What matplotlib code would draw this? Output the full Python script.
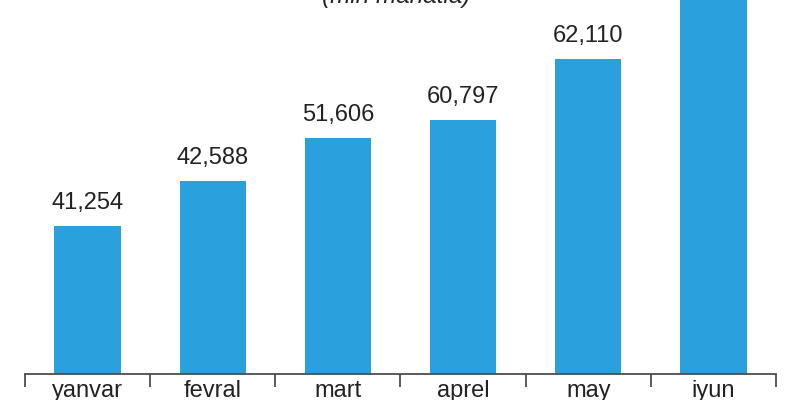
import matplotlib.pyplot as plt
import numpy as np

months = ['yanvar', 'fevral', 'mart', 'aprel', 'may', 'iyun']
values = ['41,254', '42,588', '51,606', '60,797', '62,110', '']
# bar heights as drawn in the original (not proportional to the values)
heights = [148, 193, 236, 254, 315, 420]

BAR = '#2aa1dc'
AXIS = '#4d4d4d'

plt.rcParams['font.family'] = ['Liberation Sans', 'DejaVu Sans']

fig = plt.figure(figsize=(7.92, 4.00), dpi=100)
ax = fig.add_axes([25 / 792, 26 / 400, 751 / 792, 374 / 400])

x = np.arange(len(months))
ax.bar(x, heights, width=0.53, color=BAR, clip_on=True)
for xi, h, v in zip(x, heights, values):
    if v:
        ax.annotate(v, (xi, h), xytext=(0, 9), textcoords='offset points',
                    ha='center', va='bottom', fontsize=17, color='#222222')

ax.set_xlim(-0.5, len(months) - 0.5)
ax.set_ylim(0, 374)
for side in ['top', 'right', 'left']:
    ax.spines[side].set_visible(False)
ax.spines['bottom'].set_color(AXIS)
ax.spines['bottom'].set_linewidth(1.3)
ax.set_yticks([])
ax.set_xticks(x)
ax.set_xticklabels(months, fontsize=17, color='#222222')
ax.tick_params(axis='x', which='major', length=0, pad=4)
ax.set_xticks(np.arange(len(months) + 1) - 0.5, minor=True)
ax.tick_params(axis='x', which='minor', length=9, width=1.3, color=AXIS,
               direction='out')

fig.text(0.5, 1 - 3 / 400, '(mln manatla)', ha='center', va='baseline',
         fontsize=17.5, style='italic', color='#222222')

fig.savefig('out.png', dpi=100)
